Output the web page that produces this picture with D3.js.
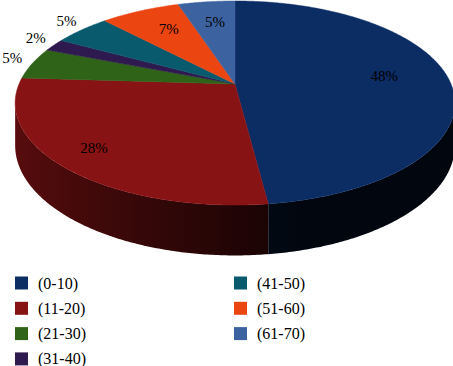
<!DOCTYPE html>
<html>
<head>
<meta charset="utf-8">
<script src="https://cdn.jsdelivr.net/npm/d3@7"></script>
<style>
  body { margin: 0; background: #fff; }
  text { font-family: 'Liberation Serif', 'DejaVu Serif', serif; fill: #000; }
</style>
</head>
<body>
<svg id="chart" width="453" height="366"></svg>
<script>
const categories = ['(0-10)', '(11-20)', '(21-30)', '(31-40)', '(41-50)', '(51-60)', '(61-70)']
const values = [48, 28, 5, 2, 5, 7, 5]
const colors = ['#0c2c64', '#881315', '#2f6418', '#2e1a4e', '#0a5a6e', '#eb4512', '#3c63a0']
const labelOutside = [false, false, true, true, true, false, false]

const svg = d3.select('#chart')
const defs = svg.append('defs')

// 3d pie geometry (perspective tilt)
const VX = 235
const VY = 84
const A = 216
const B = 98.5
const k = 0.1863
const D = 41

const project = (t, r = 1, drop = 0) => {
  const s = Math.cos(t)
  const w = 1 + k * s
  return [VX + A * r * Math.sin(t) / w, VY - B * r * s / w + drop / w]
}

const color = d3.scaleOrdinal().domain(categories).range(colors)

const arcs = d3.pie().sort(null).value(d => d)(values)

const arcPoints = (a0, a1, drop) => {
  const n = Math.max(2, Math.ceil(Math.abs(a1 - a0) / 0.01))
  return d3.range(n + 1).map(i => project(a0 + (a1 - a0) * i / n, 1, drop))
}

const line = d3.line()

// side shade factor by angle
const shade = t => Math.max(0.14, 0.25 + 0.42 * -Math.sin(t))

//* * side wall
const visLo = Math.acos(-k)
const visHi = 2 * Math.PI - visLo
const gSide = svg.append('g')
arcs.forEach((a, i) => {
  const lo = Math.max(a.startAngle, visLo)
  const hi = Math.min(a.endAngle, visHi)
  if (hi <= lo) return
  const x1 = project(lo)[0]
  const x2 = project(hi)[0]
  const grad = defs.append('linearGradient')
    .attr('id', 'side' + i)
    .attr('gradientUnits', 'userSpaceOnUse')
    .attr('x1', x1).attr('x2', x2)
    .attr('y1', 0).attr('y2', 0)
  d3.range(21).forEach(j => {
    const t = lo + (hi - lo) * j / 20
    grad.append('stop')
      .attr('offset', (project(t)[0] - x1) / (x2 - x1))
      .attr('stop-color', d3.interpolateRgb('#000', color(categories[i]))(shade(t)))
  })
  const pts = arcPoints(lo, hi, 0).concat(arcPoints(hi, lo, D))
  gSide.append('path')
    .attr('d', line(pts) + 'Z')
    .attr('fill', 'url(#side' + i + ')')
})

//* * top face
svg.append('g')
  .selectAll('path')
  .data(arcs)
  .join('path')
  .attr('d', a => line([[VX, VY]].concat(arcPoints(a.startAngle, a.endAngle, 0))) + 'Z')
  .attr('fill', (a, i) => color(categories[i]))
  .attr('stroke', (a, i) => color(categories[i]))
  .attr('stroke-width', 0.5)

//* * labels
svg.append('g')
  .selectAll('text')
  .data(arcs)
  .join('text')
  .attr('text-anchor', 'middle')
  .attr('dominant-baseline', 'central')
  .attr('font-size', 15)
  .attr('transform', (a, i) => {
    const t = (a.startAngle + a.endAngle) / 2
    const r = labelOutside[i] ? 1.1 : 0.7 + 0.17 * Math.max(0, -Math.cos(t))
    const p = project(t, r)
    return 'translate(' + Math.max(11, p[0]) + ',' + (p[1] - (labelOutside[i] ? 3 : 4)) + ')'
  })
  .text(a => a.data + '%')

//* * legend
const legend = svg.append('g')
  .selectAll('g')
  .data(categories)
  .join('g')
  .attr('transform', (d, i) => {
    const col = i < 4 ? 0 : 1
    const row = i < 4 ? i : i - 4
    return 'translate(' + (15 + col * 219) + ',' + (283 + row * 25.3) + ')'
  })

legend.append('rect')
  .attr('x', 0)
  .attr('y', -6.5)
  .attr('width', 13)
  .attr('height', 13)
  .attr('fill', d => color(d))

legend.append('text')
  .attr('x', 23)
  .attr('y', 0)
  .attr('dominant-baseline', 'central')
  .attr('font-size', 16)
  .text(d => d)
</script>
</body>
</html>
